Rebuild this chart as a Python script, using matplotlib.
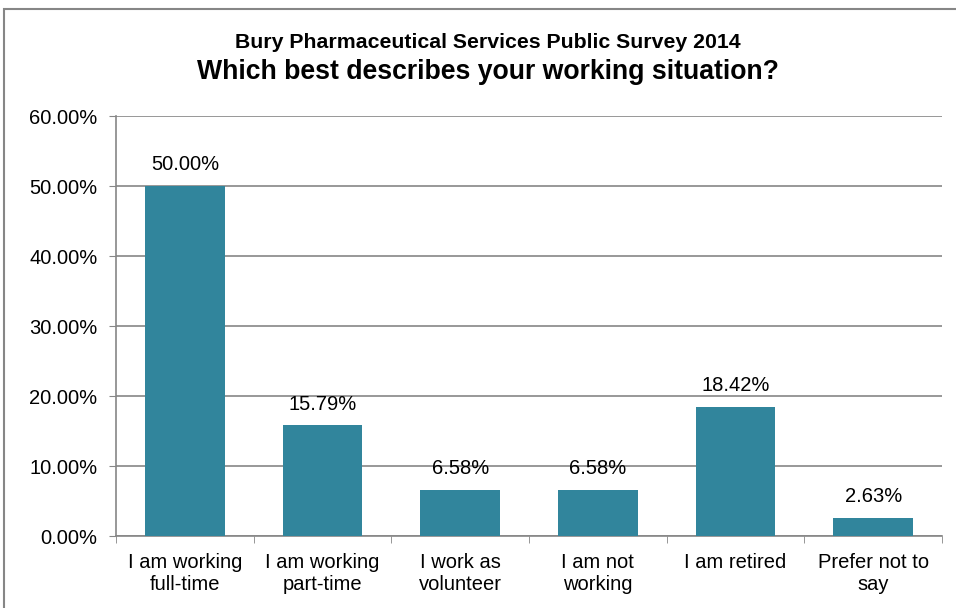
import matplotlib.pyplot as plt
from matplotlib.patches import Rectangle
from matplotlib.ticker import FuncFormatter, MultipleLocator

categories = ["I am working\nfull-time", "I am working\npart-time", "I work as\nvolunteer",
              "I am not\nworking", "I am retired", "Prefer not to\nsay"]
shares = [50.00, 15.79, 6.58, 6.58, 18.42, 2.63]

title_top = "Bury Pharmaceutical Services Public Survey 2014"
title_main = "Which best describes your working situation?"

bar_color = "#31859C"
line_color = "#868686"

plt.rcParams["font.family"] = ["Liberation Sans", "DejaVu Sans"]

fig = plt.figure(figsize=(9.56, 6.08), dpi=100)
W, H = 956, 608

# outer chart frame, runs off the right and bottom edges
fig.patches.append(Rectangle((4 / W, -0.1), 1.2, (H - 9) / H + 0.1,
                             transform=fig.transFigure, fill=False,
                             edgecolor=line_color, linewidth=1.5))

ax = fig.add_axes([116 / W, (H - 536) / H, (942 - 116) / W, (536 - 116) / H])

x = range(len(categories))
ax.bar(x, shares, width=0.58, color=bar_color, zorder=3)
for xi, v in zip(x, shares):
    ax.text(xi, v + 1.7, f"{v:.2f}%", ha="center", va="bottom", fontsize=14.5)

ax.set_xlim(-0.5, len(categories) - 0.5)
ax.set_ylim(0, 60)
ax.yaxis.set_major_locator(MultipleLocator(10))
ax.yaxis.set_major_formatter(FuncFormatter(lambda v, _: f"{v:.2f}%"))
ax.set_xticks(list(x))
ax.set_xticklabels(categories, fontsize=14.5, linespacing=1.2)
ax.set_xticks([i - 0.5 for i in range(len(categories) + 1)], minor=True)
ax.tick_params(axis="x", which="major", length=0, pad=12)
ax.tick_params(axis="x", which="minor", length=5, color=line_color, direction="out")
ax.tick_params(axis="y", labelsize=14.5, length=5, color=line_color, pad=8.5)

ax.grid(axis="y", color=line_color, linewidth=1.2, zorder=0)
for side in ("top", "right"):
    ax.spines[side].set_visible(False)
for side in ("left", "bottom"):
    ax.spines[side].set_color(line_color)
    ax.spines[side].set_linewidth(1.2)

fig.text(488 / W, 1 - 43 / H, title_top, ha="center", va="center",
         fontsize=15.3, fontweight="bold")
fig.text(488 / W, 1 - 72 / H, title_main, ha="center", va="center",
         fontsize=19.2, fontweight="bold")

fig.savefig("out.png", dpi=100)
